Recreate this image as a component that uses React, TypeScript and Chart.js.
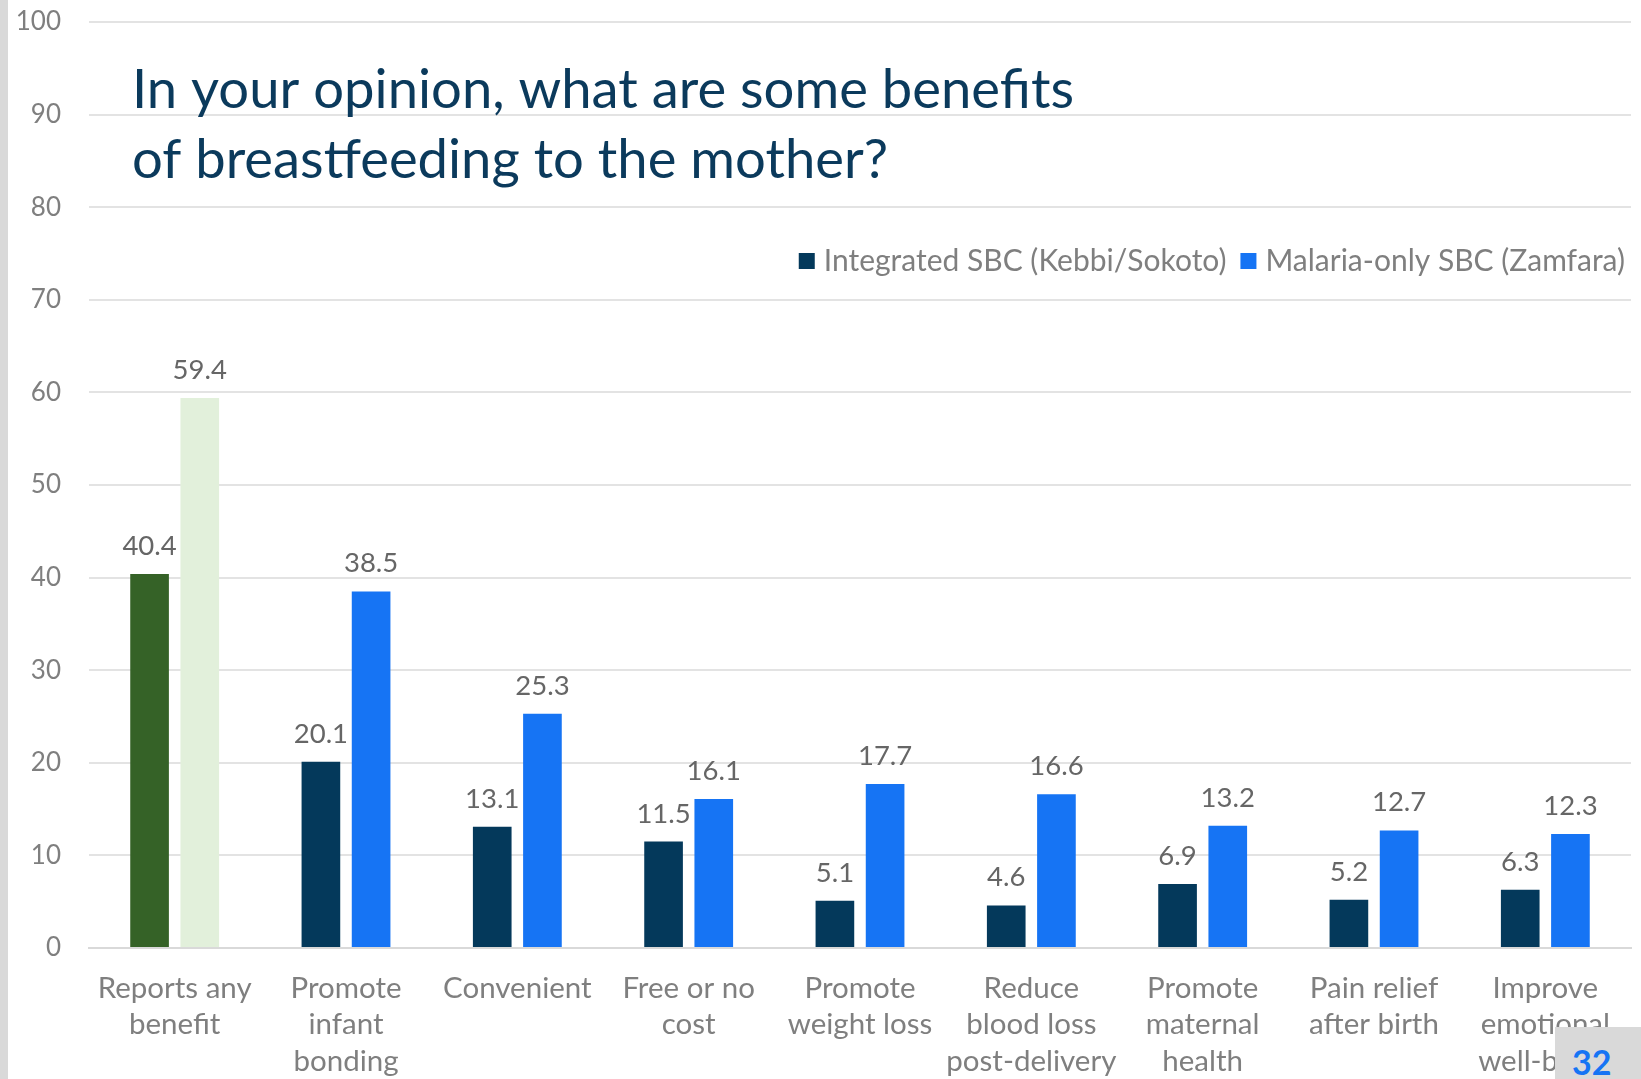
import React, { useEffect, useRef } from "react";
import { Chart, registerables } from "chart.js";

Chart.register(...registerables);

const categories: string[][] = [
  ["Reports any", "benefit"],
  ["Promote", "infant", "bonding"],
  ["Convenient"],
  ["Free or no", "cost"],
  ["Promote", "weight loss"],
  ["Reduce", "blood loss", "post-delivery"],
  ["Promote", "maternal", "health"],
  ["Pain relief", "after birth"],
  ["Improve", "emotional", "well-being"],
];
const integratedValues = [40.4, 20.1, 13.1, 11.5, 5.1, 4.6, 6.9, 5.2, 6.3];
const malariaValues = [59.4, 38.5, 25.3, 16.1, 17.7, 16.6, 13.2, 12.7, 12.3];
const seriesLabels = ["Integrated SBC (Kebbi/Sokoto)", "Malaria-only SBC (Zamfara)"];
const titleLines = ["In your opinion, what are some benefits", "of breastfeeding to the mother?"];
const slideNumber = "32";

const NAVY = "#04395B";
const BLUE = "#1674F4";
const GREEN = "#356227";
const LIGHT_GREEN = "#E2F0DB";
const FONT = "Lato, 'Open Sans', sans-serif";
const PLOT_TOP = 22;

export default function App() {
  const ref = useRef<HTMLCanvasElement | null>(null);
  useEffect(() => {
    document.body.style.margin = "0";
    const canvas = ref.current!;
    const overlay = {
      id: "overlay",
      afterLayout(chart: any) {
        const y = chart.scales.y;
        if (!y) return;
        chart.chartArea.top = PLOT_TOP;
        chart.chartArea.height = chart.chartArea.bottom - PLOT_TOP;
        y.top = PLOT_TOP;
        y.height = y.bottom - PLOT_TOP;
        y.configure();
      },
      afterDatasetsDraw(chart: any) {
        const ctx = chart.ctx;
        ctx.save();
        ctx.font = `27.5px ${FONT}`;
        ctx.fillStyle = "#666666";
        ctx.textAlign = "center";
        ctx.textBaseline = "alphabetic";
        chart.data.datasets.forEach((ds: any, di: number) => {
          const meta = chart.getDatasetMeta(di);
          meta.data.forEach((el: any, i: number) => {
            ctx.fillText(ds.data[i].toFixed(1), el.x, el.y - 19);
          });
        });
        ctx.restore();
      },
      afterDraw(chart: any) {
        const ctx = chart.ctx;
        ctx.save();
        // title
        ctx.font = `54.4px ${FONT}`;
        ctx.fillStyle = "#0B3A5C";
        ctx.textAlign = "left";
        ctx.textBaseline = "middle";
        ctx.fillText(titleLines[0], 132, 90);
        ctx.fillText(titleLines[1], 132, 160);
        // legend
        ctx.font = `30px ${FONT}`;
        ctx.textBaseline = "middle";
        const box = 16;
        const gapBoxText = 9;
        const gapItems = 14;
        const colors = [NAVY, BLUE];
        const widths = seriesLabels.map((t) => ctx.measureText(t).width);
        let total = 0;
        widths.forEach((w, i) => {
          total += box + gapBoxText + w + (i > 0 ? gapItems : 0);
        });
        let x = 1625 - total;
        const y = 261;
        seriesLabels.forEach((t, i) => {
          ctx.fillStyle = colors[i];
          ctx.fillRect(x, y - box / 2, box, box);
          x += box + gapBoxText;
          ctx.fillStyle = "#7F7F7F";
          ctx.fillText(t, x, y);
          x += widths[i] + gapItems;
        });
        ctx.restore();
      },
    };
    const chart = new Chart(canvas, {
      type: "bar",
      data: {
        labels: categories,
        datasets: [
          {
            label: seriesLabels[0],
            data: integratedValues,
            backgroundColor: integratedValues.map((_, i) => (i === 0 ? GREEN : NAVY)),
          },
          {
            label: seriesLabels[1],
            data: malariaValues,
            backgroundColor: malariaValues.map((_, i) => (i === 0 ? LIGHT_GREEN : BLUE)),
          },
        ],
      },
      options: {
        animation: false,
        responsive: false,
        maintainAspectRatio: false,
        layout: { padding: { top: 1, right: 10, left: 0, bottom: 0 } },
        datasets: { bar: { categoryPercentage: 0.586, barPercentage: 0.77 } },
        plugins: { legend: { display: false }, tooltip: { enabled: false }, title: { display: false } },
        scales: {
          x: {
            grid: { display: false },
            border: { display: true, color: "#D9D9D9", width: 2 },
            ticks: {
              color: "#7F7F7F",
              font: { family: FONT, size: 29.5, lineHeight: 1.24 },
              maxRotation: 0,
              autoSkip: false,
              padding: 14,
            },
            afterFit: (s: any) => {
              s.height = 131;
            },
          },
          y: {
            min: 0,
            max: 100,
            ticks: { stepSize: 10, color: "#7F7F7F", font: { family: FONT, size: 26 }, padding: 28 },
            grid: { color: "#E3E3E3", lineWidth: 2, drawTicks: false },
            border: { display: false },
            afterFit: (s: any) => {
              s.width = 89;
            },
          },
        },
      },
      plugins: [overlay],
    });
    return () => chart.destroy();
  }, []);
  return (
    <div style={{ position: "fixed", left: 0, top: 0, width: 1641, height: 1079, background: "#fff", overflow: "hidden" }}>
      <canvas ref={ref} width={1641} height={1079} style={{ display: "block" }} />
      <div style={{ position: "absolute", left: 0, top: 0, width: 8, height: 1079, background: "#D9D9D9" }} />
      <div
        style={{
          position: "absolute",
          left: 1555,
          top: 1027,
          width: 86,
          height: 52,
          background: "#D9D9D9",
          overflow: "hidden",
        }}
      >
        <span
          style={{
            position: "absolute",
            left: 17,
            top: 18,
            color: BLUE,
            fontFamily: FONT,
            fontWeight: 700,
            fontSize: 34,
            lineHeight: "34px",
          }}
        >
          {slideNumber}
        </span>
      </div>
    </div>
  );
}
